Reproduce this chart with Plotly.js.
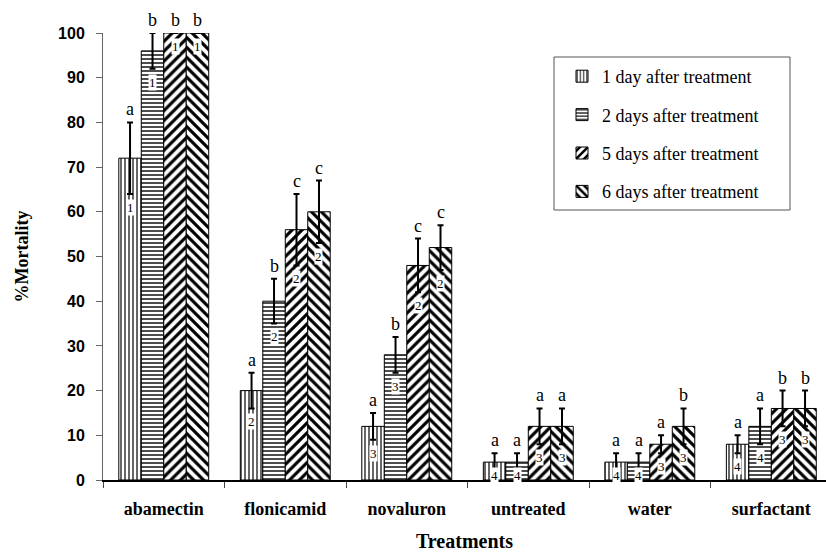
<!DOCTYPE html>
<html><head><meta charset="utf-8">
<script src="https://cdn.plot.ly/plotly-3.0.1.min.js"></script>
<style>html,body{margin:0;padding:0;background:#fff}</style>
</head><body><div id="chart" style="width:826px;height:554px"></div>
<script>
const categories = ['abamectin','flonicamid','novaluron','untreated','water','surfactant'];
const seriesNames = ['1 day after treatment','2 days after treatment','5 days after treatment','6 days after treatment'];
const day1 = [72, 20, 12, 4, 4, 8];
const day1Err = [8, 4, 3, 2, 2, 2];
const day2 = [96, 40, 28, 4, 4, 12];
const day2Err = [4, 5, 4, 2, 2, 4];
const day5 = [100, 56, 48, 12, 8, 16];
const day5Err = [0, 8, 6, 4, 2, 4];
const day6 = [100, 60, 52, 12, 12, 16];
const day6Err = [0, 7, 5, 4, 4, 4];
const letters1 = ['a','a','a','a','a','a'];
const letters2 = ['b','b','b','a','a','a'];
const letters5 = ['b','c','c','a','a','b'];
const letters6 = ['b','c','c','a','b','b'];
const ranks1 = ['1','2','3','4','4','4'];
const ranks2 = ['1','2','3','4','4','4'];
const ranks5 = ['1','2','2','3','3','3'];
const ranks6 = ['1','2','2','3','3','3'];

const values = [day1, day2, day5, day6];
const errs = [day1Err, day2Err, day5Err, day6Err];
const letters = [letters1, letters2, letters5, letters6];
const ranks = [ranks1, ranks2, ranks5, ranks6];
const shapesP = ['|', '-', '/', '\\'];
const psize = [4, 4, 7, 7];
const psolid = [0.3, 0.35, 0.45, 0.45];

const serif = 'Liberation Serif, Times New Roman, serif';
const sans = 'Liberation Sans, Arial, sans-serif';

const bargap = 0.26;
const bw = (1 - bargap) / 4;

const traces = values.map((v, k) => ({
  type: 'bar',
  name: seriesNames[k],
  legendgroup: 'g' + k,
  x: categories,
  y: v,
  error_y: {type: 'data', array: errs[k], visible: true, color: 'black', thickness: 2, width: 3},
  marker: {
    color: 'white',
    line: {color: 'black', width: 1},
    pattern: {shape: shapesP[k], fgcolor: 'black', bgcolor: 'white', size: psize[k], solidity: psolid[k]}
  }
}));

const annotations = [];
values.forEach((v, k) => {
  v.forEach((val, i) => {
    const xpos = i + (k - 1.5) * bw;
    annotations.push({
      x: xpos, y: val + errs[k][i], xref: 'x', yref: 'y',
      text: letters[k][i], showarrow: false, yanchor: 'bottom', yshift: 1,
      font: {family: serif, size: 18, color: 'black'}
    });
    annotations.push({
      x: xpos, y: Math.max(val - errs[k][i] - 3, 1), xref: 'x', yref: 'y',
      text: ranks[k][i], showarrow: false, bgcolor: 'white', borderpad: 0,
      font: {family: serif, size: 13, color: 'black'}
    });
  });
});

const px = p => (p - 103) / 723;
const py = p => (480 - p) / 447;

const layout = {
  width: 826, height: 554, autosize: false,
  margin: {l: 103, r: 0, t: 33, b: 74},
  paper_bgcolor: 'white', plot_bgcolor: 'white',
  barmode: 'group', bargap: bargap, bargroupgap: 0,
  showlegend: true,
  legend: {
    x: px(562), y: py(58), xanchor: 'left', yanchor: 'top',
    borderwidth: 0, bgcolor: 'rgba(0,0,0,0)',
    font: {family: serif, size: 18, color: 'black'},
    tracegroupgap: 12, traceorder: 'grouped'
  },
  shapes: [{
    type: 'rect', xref: 'paper', yref: 'paper',
    x0: px(554), x1: px(790), y0: py(210), y1: py(57),
    line: {color: '#555', width: 1}
  }],
  xaxis: {
    type: 'category', range: [-0.5, 5.45], automargin: false,
    showline: true, linecolor: 'black', linewidth: 1.5,
    ticks: 'outside', tickson: 'boundaries', ticklen: 6, tickcolor: '#444',
    ticklabelstandoff: 12,
    tickfont: {family: serif, size: 18, color: 'black', weight: 'bold'},
    showgrid: false, zeroline: false,
    title: {text: 'Treatments', font: {family: serif, size: 20, color: 'black', weight: 'bold'}, standoff: 16}
  },
  yaxis: {
    range: [0, 100], dtick: 10, automargin: false,
    showline: true, linecolor: '#666', linewidth: 1,
    ticks: 'outside', ticklen: 6, tickcolor: '#666',
    ticklabelstandoff: 8,
    tickfont: {family: sans, size: 16, color: 'black', weight: 'bold'},
    showgrid: false, zeroline: false,
    title: {text: '%Mortality', font: {family: serif, size: 18, color: 'black', weight: 'bold'}, standoff: 24}
  },
  annotations: annotations
};

Plotly.newPlot('chart', traces, layout, {displayModeBar: false, staticPlot: true});
</script>
</body></html>
